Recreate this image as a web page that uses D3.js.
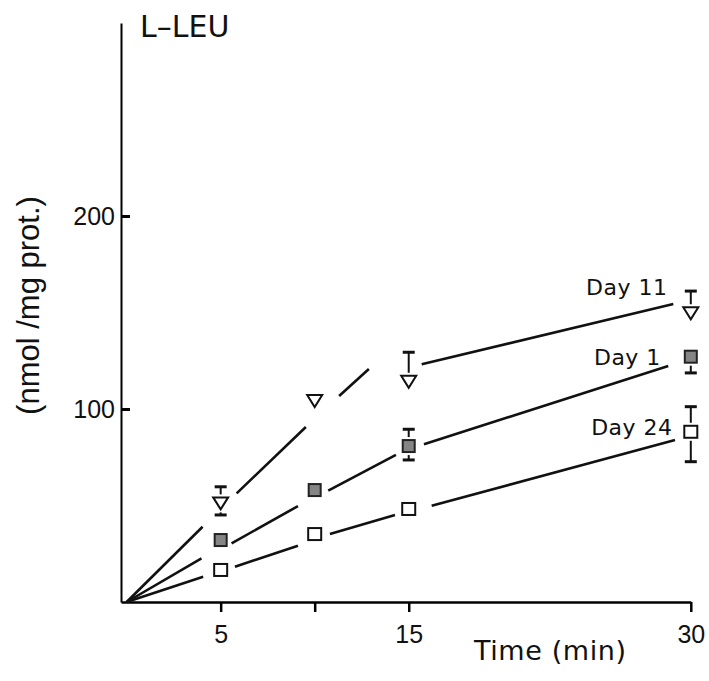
<!DOCTYPE html>
<html>
<head>
<meta charset="utf-8">
<script src="https://cdn.jsdelivr.net/npm/d3@7"></script>
<style>
body { margin: 0; background: #fff; }
svg { display: block; }
</style>
</head>
<body>
<svg id="chart" width="709" height="681"></svg>
<script>
var xTicks = [5, 10, 15, 30];
var xTickLabels = ["5", "", "15", "30"];
var yTicks = [100, 200];
var yTickLabels = ["100", "200"];

// points [time (min), nmol/mg prot.]
var day11 = [[5, 51.1], [10, 104.1], [15, 114.1], [30, 149.6]];
var day1 = [[5, 32.1], [10, 58.0], [15, 80.8], [30, 127.1]];
var day24 = [[5, 16.6], [10, 35.2], [15, 48.2], [30, 88.2]];

// error bars [time, low, high]
var day11Err = [[5, 45.1, 59.7], [15, null, 129.4], [30, null, 161.1]];
var day1Err = [[15, 73.6, 89.5], [30, 118.7, null]];
var day24Err = [[30, 72.7, 101.2]];

// line pieces as drawn [t0, v0, t1, v1]
var day11Lines = [[0, 0, 4.04, 39.0], [5.85, 56.3, 9.53, 90.7], [11.30, 106.7, 12.88, 120.7], [15.69, 123.2, 29.07, 154.4]];
var day1Lines = [[0, 0, 3.98, 22.6], [5.58, 30.4, 9.11, 49.7], [10.72, 57.7, 14.32, 76.2], [15.81, 81.7, 28.80, 122.3]];
var day24Lines = [[0, 0, 4.07, 13.1], [5.76, 18.3, 9.11, 29.2], [10.81, 35.2, 14.27, 45.1], [16.22, 49.9, 29.16, 83.9]];

var seriesNames = ["Day 11", "Day 1", "Day 24"];
var labelPos = [[24.43, 159.1], [24.85, 122.8], [24.7, 86.5]];

var svg = d3.select("#chart");
var x = d3.scaleLinear().domain([-0.3, 30]).range([121, 690.8]);
var y = d3.scaleLinear().domain([0, 300]).range([602, 23]);

// axes
var xAxis = d3.axisBottom(x).tickValues(xTicks).tickSize(10).tickSizeOuter(0).tickPadding(13)
    .tickFormat(function(d, i) { return xTickLabels[i]; });
var gx = svg.append("g").attr("transform", "translate(0," + y(0) + ")").call(xAxis);
gx.select(".domain").attr("stroke-width", 2.5);
gx.selectAll(".tick line").attr("stroke-width", 2.5);
gx.selectAll("text").attr("font-family", "Liberation Sans, Arial, sans-serif").attr("font-size", 25).attr("fill", "#111");

var yAxis = d3.axisLeft(y).tickValues(yTicks).tickSizeInner(-9).tickSizeOuter(0).tickPadding(6)
    .tickFormat(function(d, i) { return yTickLabels[i]; });
var gy = svg.append("g").attr("transform", "translate(" + x(-0.3) + ",0)").call(yAxis);
gy.select(".domain").attr("stroke-width", 2);
gy.selectAll(".tick line").attr("stroke-width", 3);
gy.selectAll("text").attr("font-family", "Liberation Sans, Arial, sans-serif").attr("font-size", 25).attr("fill", "#111");

svg.append("text").attr("x", 140).attr("y", 37)
    .attr("font-family", "DejaVu Sans, sans-serif").attr("font-size", 30).attr("fill", "#111")
    .text("L\u2013LEU");

svg.append("text").attr("transform", "translate(38.5,305.5) rotate(-90)")
    .attr("text-anchor", "middle")
    .attr("font-family", "Liberation Sans, Arial, sans-serif").attr("font-size", 31).attr("fill", "#111")
    .text("(nmol /mg prot.)");

svg.append("text").attr("x", 474).attr("y", 660)
    .attr("font-family", "DejaVu Sans, sans-serif").attr("font-size", 27).attr("letter-spacing", 0.6).attr("fill", "#111")
    .text("Time (min)");

// lines
var allLines = [day11Lines, day1Lines, day24Lines];
allLines.forEach(function(pieces) {
    svg.append("g").selectAll("line").data(pieces).enter().append("line")
        .attr("x1", function(d) { return x(d[0]); })
        .attr("y1", function(d) { return y(d[1]); })
        .attr("x2", function(d) { return x(d[2]); })
        .attr("y2", function(d) { return y(d[3]); })
        .attr("stroke", "#111").attr("stroke-width", 2.6);
});

// error bars
var drawErr = function(errs, pts, half) {
    var g = svg.append("g").attr("stroke", "#111");
    errs.forEach(function(e) {
        var mean = pts.filter(function(p) { return p[0] === e[0]; })[0][1];
        var cx = x(e[0]);
        var cy = y(mean);
        if (e[2] !== null) {
            g.append("line").attr("x1", cx).attr("x2", cx).attr("y1", y(e[2])).attr("y2", cy - half - 3).attr("stroke-width", 2);
            g.append("line").attr("x1", cx - 6).attr("x2", cx + 6).attr("y1", y(e[2])).attr("y2", y(e[2])).attr("stroke-width", 3);
        }
        if (e[1] !== null) {
            g.append("line").attr("x1", cx).attr("x2", cx).attr("y1", cy + half + 3).attr("y2", y(e[1])).attr("stroke-width", 2);
            g.append("line").attr("x1", cx - 6).attr("x2", cx + 6).attr("y1", y(e[1])).attr("y2", y(e[1])).attr("stroke-width", 3);
        }
    });
};
drawErr(day11Err, day11, 6);
drawErr(day1Err, day1, 6);
drawErr(day24Err, day24, 6);

// markers
svg.append("g").selectAll("path").data(day11).enter().append("path")
    .attr("d", "M-7.5,-6L7.5,-6L0,6Z")
    .attr("transform", function(d) { return "translate(" + x(d[0]) + "," + y(d[1]) + ")"; })
    .attr("fill", "#fff").attr("stroke", "#111").attr("stroke-width", 2);

svg.append("g").selectAll("rect").data(day1).enter().append("rect")
    .attr("x", function(d) { return x(d[0]) - 6; })
    .attr("y", function(d) { return y(d[1]) - 6; })
    .attr("width", 12).attr("height", 12)
    .attr("fill", "#858585").attr("stroke", "#222").attr("stroke-width", 2);

svg.append("g").selectAll("rect").data(day24).enter().append("rect")
    .attr("x", function(d) { return x(d[0]) - 6.5; })
    .attr("y", function(d) { return y(d[1]) - 6; })
    .attr("width", 13).attr("height", 12)
    .attr("fill", "#fff").attr("stroke", "#111").attr("stroke-width", 2);

// series labels
svg.append("g").selectAll("text").data(seriesNames).enter().append("text")
    .attr("x", function(d, i) { return x(labelPos[i][0]); })
    .attr("y", function(d, i) { return y(labelPos[i][1]); })
    .attr("font-family", "DejaVu Sans, sans-serif").attr("font-size", 22).attr("letter-spacing", 0.5).attr("fill", "#111")
    .text(function(d) { return d; });
</script>
</body>
</html>
